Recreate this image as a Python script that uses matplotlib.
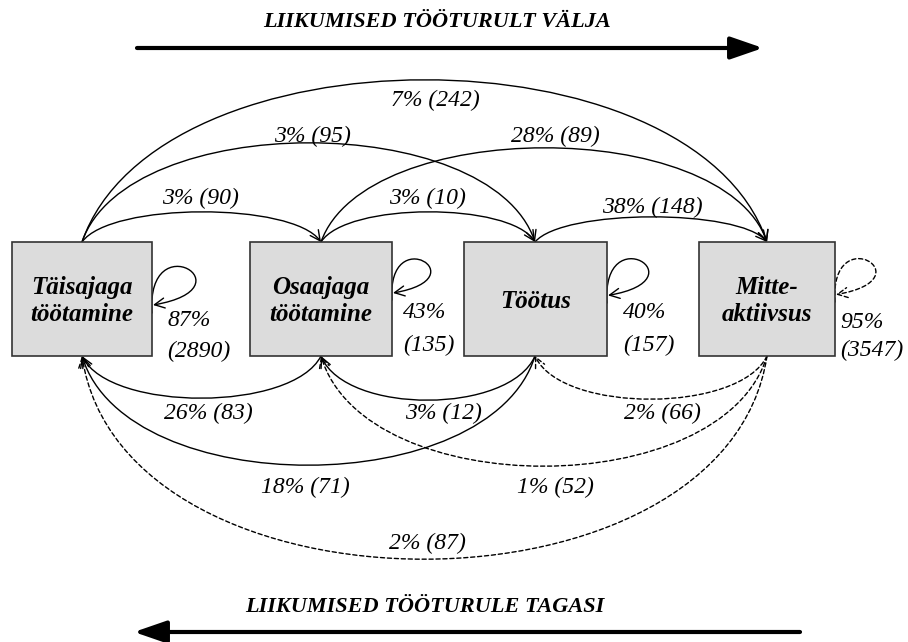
import matplotlib
matplotlib.use("Agg")
import matplotlib.pyplot as plt
from matplotlib.patches import FancyArrowPatch, Rectangle
from matplotlib.path import Path

# ---------------- data ----------------
states = ["Täisajaga\ntöötamine", "Osaajaga\ntöötamine", "Töötus", "Mitte-\naktiivsus"]

# flows between states (source index, target index, share %, count)
flow_src = [0, 0, 0, 1, 1, 2, 1, 2, 3, 2, 3, 3]
flow_dst = [1, 2, 3, 2, 3, 3, 0, 0, 0, 1, 1, 2]
flow_pct = [3, 3, 7, 3, 28, 38, 26, 18, 2, 3, 1, 2]
flow_cnt = [90, 95, 242, 10, 89, 148, 83, 71, 87, 12, 52, 66]

# staying in the same state
stay_pct = [87, 43, 40, 95]
stay_cnt = [2890, 135, 157, 3547]

title_out = "LIIKUMISED TÖÖTURULT VÄLJA"
title_back = "LIIKUMISED TÖÖTURULE TAGASI"

# ---------------- layout (pixel space) ----------------
W, H = 908, 642
box_left = [12, 250, 464, 699]
box_right = [152, 392, 607, 835]
box_top, box_bot = 242, 356
anchor_x = [82, 321, 535, 767]

# per-flow: arc extreme y, label position, curve shape
arc_y = [212, 143, 80, 212, 148, 217, 398, 465, 559, 400, 466, 399]
lab_xy = [(200, 198), (312, 136), (435, 100), (427, 198), (555, 136), (652, 207),
          (208, 413), (305, 487), (427, 543), (443, 413), (555, 487), (662, 413)]
shape_a = [0.12, 0.10, 0.11, 0.12, 0.10, 0.12, 0.12, 0.10, 0.06, 0.12, 0.10, 0.12]

loop_y0 = [313, 300, 303, 302]          # loop start y on box edge
loop_scale = [1.0, 0.88, 0.95, 0.93]
stay_lab_y = [(320, 351), (313, 345), (313, 345), (322, 350)]
stay_lab_x = [167, 403, 623, 840]

serif = "Liberation Serif"

fig = plt.figure(figsize=(W / 100, H / 100), dpi=100)
ax = fig.add_axes([0, 0, 1, 1])
ax.set_xlim(0, W)
ax.set_ylim(H, 0)
ax.axis("off")

# boxes
for i, name in enumerate(states):
    ax.add_patch(Rectangle((box_left[i], box_top), box_right[i] - box_left[i],
                           box_bot - box_top, facecolor="#dcdcdc",
                           edgecolor="#333333", lw=1.2, zorder=2))
    ax.text((box_left[i] + box_right[i]) / 2, (box_top + box_bot) / 2 + 2, name,
            ha="center", va="center", family=serif, style="italic",
            weight="bold", fontsize=18, linespacing=1.2, zorder=3)

head = "->,head_length=0.6,head_width=0.3"

# flows
for k in range(len(flow_src)):
    s, d = flow_src[k], flow_dst[k]
    up = d > s
    y0 = box_top if up else box_bot
    x0, x1 = anchor_x[s], anchor_x[d]
    yc = y0 + (arc_y[k] - y0) * 4 / 3
    dx = shape_a[k] * (x1 - x0)
    verts = [(x0, y0), (x0 + dx, yc), (x1 - dx, yc), (x1, y0)]
    codes = [Path.MOVETO, Path.CURVE4, Path.CURVE4, Path.CURVE4]
    dashed = (s == 3)
    p = FancyArrowPatch(path=Path(verts, codes), arrowstyle=head,
                        mutation_scale=12, lw=1.0, color="black",
                        linestyle=(0, (3, 2)) if dashed else "-",
                        shrinkA=0, shrinkB=0, zorder=1)
    ax.add_patch(p)
    ax.text(lab_xy[k][0], lab_xy[k][1], f"{flow_pct[k]}% ({flow_cnt[k]})",
            ha="center", va="center", family=serif, style="italic", fontsize=17)

# self loops
for i in range(4):
    xr = box_right[i]
    y0 = loop_y0[i]
    sc = loop_scale[i]
    verts = [(xr, y0), (xr - 6 * sc, y0 - 90 * sc), (xr + 100 * sc, y0 - 25 * sc),
             (xr + 1, y0 - 8 * sc)]
    codes = [Path.MOVETO, Path.CURVE4, Path.CURVE4, Path.CURVE4]
    dashed = (i == 3)
    p = FancyArrowPatch(path=Path(verts, codes), arrowstyle=head,
                        mutation_scale=12, lw=1.0, color="black",
                        linestyle=(0, (3, 2)) if dashed else "-",
                        shrinkA=0, shrinkB=0, zorder=1)
    ax.add_patch(p)
    ax.text(stay_lab_x[i], stay_lab_y[i][0], f"{stay_pct[i]}%", ha="left", va="center",
            family=serif, style="italic", fontsize=17)
    ax.text(stay_lab_x[i], stay_lab_y[i][1], f"({stay_cnt[i]})", ha="left", va="center",
            family=serif, style="italic", fontsize=17)

# titles and big arrows
big = "-|>,head_length=1.1,head_width=0.38"
ax.text(437, 22, title_out, ha="center", va="center", family=serif,
        style="italic", weight="bold", fontsize=16)
ax.annotate("", xy=(763, 48), xytext=(137, 48),
            arrowprops=dict(arrowstyle=big, lw=3.0, color="black", mutation_scale=18,
                            shrinkA=0, shrinkB=0))
ax.text(425, 607, title_back, ha="center", va="center", family=serif,
        style="italic", weight="bold", fontsize=16)
ax.annotate("", xy=(134, 632), xytext=(800, 632),
            arrowprops=dict(arrowstyle=big, lw=3.0, color="black", mutation_scale=18,
                            shrinkA=0, shrinkB=0))

fig.savefig("out.png", dpi=100)
